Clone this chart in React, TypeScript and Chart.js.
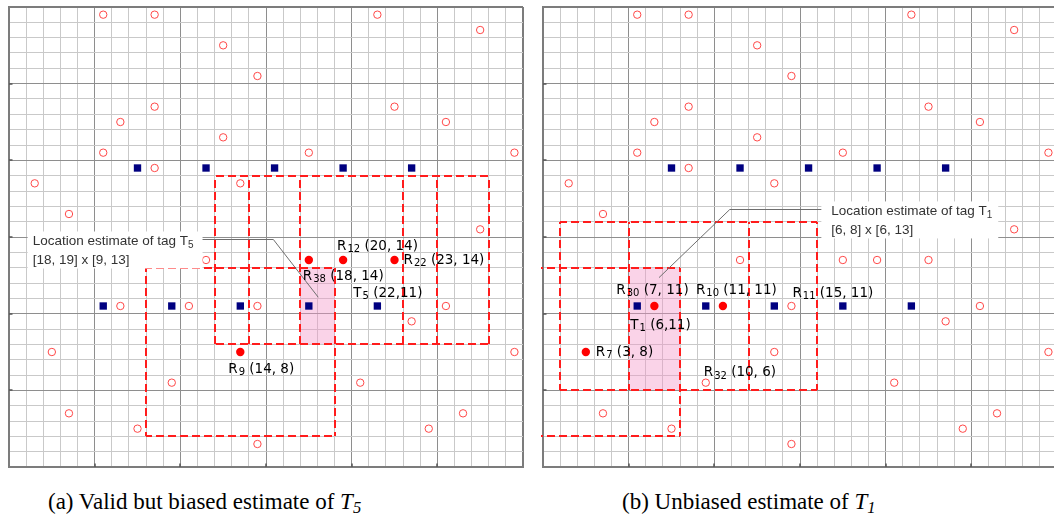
import React, { useEffect, useRef } from 'react';
import { Chart, registerables } from 'chart.js';

Chart.register(...registerables);

// ---------------- data ----------------
// Reader positions (grid cells, 1..30)
const readerX = [6, 9, 22, 28, 13, 15, 9, 23, 7, 26, 13, 6, 18, 30, 9, 2, 14, 4, 28, 12, 18, 20, 23, 7, 11, 15, 26, 24, 3, 14, 30, 10, 21, 4, 27, 8, 25, 15];
const readerY = [30, 30, 30, 29, 28, 26, 24, 24, 23, 23, 22, 21, 21, 21, 20, 19, 19, 17, 16, 14, 14, 14, 14, 11, 11, 11, 11, 10, 8, 8, 8, 6, 6, 4, 4, 3, 3, 2];
// Tag positions
const tagX = [8, 12, 16, 20, 24, 6, 10, 14, 18, 22];
const tagY = [20, 20, 20, 20, 20, 11, 11, 11, 11, 11];
// reading range (cells on each side of a reader)
const readRange = 5;

// Panel (a)
const aActiveNames = ['R38', 'R12', 'R22', 'R9'];
const aActiveX = [18, 20, 23, 14];
const aActiveY = [14, 14, 14, 8];
const aOtherNames: string[] = [];
const aOtherX: number[] = [];
const aOtherY: number[] = [];
const aTagName = 'T5';
const aTagX = 22;
const aTagY = 11;
const aEstX = [18, 19];
const aEstY = [9, 13];

// Panel (b)
const bActiveNames = ['R30', 'R10', 'R7'];
const bActiveX = [7, 11, 3];
const bActiveY = [11, 11, 8];
const bOtherNames = ['R11', 'R32'];
const bOtherX = [15, 10];
const bOtherY = [11, 6];
const bTagName = 'T1';
const bTagX = 6;
const bTagY = 11;
const bEstX = [6, 8];
const bEstY = [6, 13];

// ---------------- styles ----------------
const aLabelOffsets: Record<string, number[]> = { R38: [-6, 16], R12: [-6, -14], R22: [9, 0], R9: [-12, 17], T5: [-24, -13] };
const bLabelOffsets: Record<string, number[]> = { R30: [-38, -16], R10: [-27, -16], R7: [10, 0], R11: [1, -13], R32: [-2, -10], T1: [-7, 19] };

const aCallout = { textX: 1.88, lineY: 15.24, elbowX: 15.93, endX: 18.55, endY: 11.57, side: 'right', padL: 5, padR: 9 };
const bCallout = { textX: 17.33, lineY: 17.2, elbowX: 11.4, endX: 7.27, endY: 12.85, side: 'left', padL: 10, padR: 6 };

const MAJOR = '#8e8e8e';
const MINOR = '#c9c9c9';
const BORDER = '#7c7c7c';
const LABEL_FONT = '13.5px "DejaVu Sans"';
const LABEL_SUB = '10px "DejaVu Sans"';
const CALL_FONT = '13.5px "Liberation Sans"';
const CALL_SUB = '10px "Liberation Sans"';

const gridLines = Array.from({ length: 31 }, (_, i) => i + 0.5);

type Part = { text: string; sub?: boolean };

function drawParts(ctx: CanvasRenderingContext2D, x: number, y: number, parts: Part[], font: string, subFont: string, subDy: number) {
  let cx = x;
  for (const p of parts) {
    ctx.font = p.sub ? subFont : font;
    ctx.fillText(p.text, cx, p.sub ? y + subDy : y);
    cx += ctx.measureText(p.text).width;
  }
  return cx;
}

function measureParts(ctx: CanvasRenderingContext2D, parts: Part[], font: string, subFont: string) {
  let w = 0;
  for (const p of parts) {
    ctx.font = p.sub ? subFont : font;
    w += ctx.measureText(p.text).width;
  }
  return w;
}

function hseg(ctx: CanvasRenderingContext2D, x0: number, x1: number, yy: number, period: number) {
  ctx.lineDashOffset = ((x0 % period) + period) % period;
  ctx.beginPath();
  ctx.moveTo(x0, yy);
  ctx.lineTo(x1, yy);
  ctx.stroke();
}
function vseg(ctx: CanvasRenderingContext2D, y0: number, y1: number, xx: number, period: number) {
  ctx.lineDashOffset = ((y0 % period) + period) % period;
  ctx.beginPath();
  ctx.moveTo(xx, y0);
  ctx.lineTo(xx, y1);
  ctx.stroke();
}

const overlayPlugin = {
  id: 'overlay',
  beforeDatasetsDraw(chart: any, _args: any, o: any) {
    const { ctx, chartArea: ca } = chart;
    const x = chart.scales.x;
    const y = chart.scales.y;
    ctx.save();
    // small tick stubs on the major lines (left and bottom edges)
    ctx.strokeStyle = '#555555';
    ctx.lineWidth = 1.5;
    gridLines.forEach((v, k) => {
      if (k % 5 !== 0 || k === 0 || k === 30) return;
      const py = Math.round(y.getPixelForValue(v));
      ctx.beginPath();
      ctx.moveTo(ca.left, py);
      ctx.lineTo(ca.left + 3.5, py);
      ctx.stroke();
      const px = Math.round(x.getPixelForValue(v));
      ctx.beginPath();
      ctx.moveTo(px, ca.bottom);
      ctx.lineTo(px, ca.bottom - 3.5);
      ctx.stroke();
    });
    ctx.beginPath();
    ctx.rect(ca.left - 2, ca.top - 2, ca.right - ca.left + 4, ca.bottom - ca.top + 4);
    ctx.clip();
    // estimate region
    const ex0 = Math.round(x.getPixelForValue(o.estX[0] - 0.5));
    const ex1 = Math.round(x.getPixelForValue(o.estX[1] + 0.5));
    const ey0 = Math.round(y.getPixelForValue(o.estY[1] + 0.5));
    const ey1 = Math.round(y.getPixelForValue(o.estY[0] - 0.5));
    ctx.fillStyle = 'rgba(243,150,200,0.42)';
    ctx.fillRect(ex0, ey0, ex1 - ex0, ey1 - ey0);
    // reading ranges
    const period = 12;
    ctx.strokeStyle = '#ff1c1c';
    ctx.lineWidth = 2;
    ctx.setLineDash([8, 4]);
    o.activeX.forEach((rx: number, i: number) => {
      const ry = o.activeY[i];
      const l = Math.round(x.getPixelForValue(rx - readRange - 0.5));
      const r = Math.round(x.getPixelForValue(rx + readRange + 0.5));
      const t = Math.round(y.getPixelForValue(ry + readRange + 0.5));
      const b = Math.round(y.getPixelForValue(ry - readRange - 0.5));
      hseg(ctx, l, r, t, period);
      hseg(ctx, l, r, b, period);
      vseg(ctx, t, b, l, period);
      vseg(ctx, t, b, r, period);
    });
    ctx.restore();
  },
  afterDatasetsDraw(chart: any, _args: any, o: any) {
    const { ctx } = chart;
    const x = chart.scales.x;
    const y = chart.scales.y;
    ctx.save();
    // callout
    const c = o.callout;
    const tx = x.getPixelForValue(c.textX);
    const ly = y.getPixelForValue(c.lineY);
    const line1: Part[] = [{ text: 'Location estimate of tag ' + o.tagName.charAt(0) }, { text: o.tagName.slice(1), sub: true }];
    const line2: Part[] = [{ text: `[${o.estX[0]}, ${o.estX[1]}] x [${o.estY[0]}, ${o.estY[1]}]` }];
    const w1 = measureParts(ctx, line1, CALL_FONT, CALL_SUB);
    const boxL = tx - c.padL;
    const boxR = tx + w1 + c.padR;
    const boxT = ly - 9.5;
    const boxB = ly + 19 + 8.5;
    ctx.fillStyle = '#ffffff';
    ctx.fillRect(boxL, boxT, boxR - boxL, boxB - boxT);
    // leader
    const elx = x.getPixelForValue(c.elbowX);
    const enx = x.getPixelForValue(c.endX);
    const eny = y.getPixelForValue(c.endY);
    const leadY = Math.round(ly - 1.5) + 0.5;
    ctx.strokeStyle = '#6e6e6e';
    ctx.lineWidth = 1;
    ctx.beginPath();
    ctx.moveTo(c.side === 'right' ? boxR : boxL, leadY);
    ctx.lineTo(elx, leadY);
    ctx.lineTo(enx, eny);
    ctx.stroke();
    ctx.fillStyle = '#333333';
    ctx.textBaseline = 'middle';
    ctx.textAlign = 'left';
    drawParts(ctx, tx, ly, line1, CALL_FONT, CALL_SUB, 4);
    drawParts(ctx, tx, ly + 19, line2, CALL_FONT, CALL_SUB, 4);

    // point labels
    ctx.fillStyle = '#000000';
    const labels: { name: string; px: number; py: number; rest: string }[] = [];
    o.activeNames.forEach((n: string, i: number) => labels.push({ name: n, px: o.activeX[i], py: o.activeY[i], rest: `(${o.activeX[i]}, ${o.activeY[i]})` }));
    o.otherNames.forEach((n: string, i: number) => labels.push({ name: n, px: o.otherX[i], py: o.otherY[i], rest: `(${o.otherX[i]}, ${o.otherY[i]})` }));
    labels.push({ name: o.tagName, px: o.tagX, py: o.tagY, rest: `(${o.tagX},${o.tagY})` });
    labels.forEach((l) => {
      const off = o.offsets[l.name] || [8, 0];
      const px = x.getPixelForValue(l.px) + off[0];
      const py = y.getPixelForValue(l.py) + off[1];
      const main = l.name.charAt(0);
      const sub = l.name.slice(1);
      ctx.font = LABEL_FONT;
      const wR = ctx.measureText(main).width;
      ctx.fillText(main, px, py);
      ctx.font = LABEL_SUB;
      ctx.fillText(sub, px + wR + 1, py + 3.5);
      const wS = ctx.measureText(sub).width;
      ctx.font = LABEL_FONT;
      ctx.fillText(' ' + l.rest, px + wR + 1 + wS, py);
    });
    ctx.restore();
  },
};

const axis = () => ({
  type: 'linear',
  min: 0.5,
  max: 30.5,
  afterBuildTicks: (scale: any) => {
    scale.ticks = gridLines.map((v) => ({ value: v }));
  },
  ticks: { display: false },
  grid: {
    drawTicks: false,
    color: (c: any) => {
      const k = Math.round(c.tick.value - 0.5);
      if (k === 0 || k === 30) return BORDER;
      return k % 5 === 0 ? MAJOR : MINOR;
    },
    lineWidth: (c: any) => {
      const k = Math.round(c.tick.value - 0.5);
      return k === 0 || k === 30 ? 2 : 1;
    },
  },
  border: { display: true, color: BORDER, width: 2 },
});

function makeConfig(panel: any, padding: any) {
  const activeKeys = new Set(panel.activeX.map((v: number, i: number) => v + ',' + panel.activeY[i]));
  const openPts = readerX.map((v, i) => ({ x: v, y: readerY[i] })).filter((p) => !activeKeys.has(p.x + ',' + p.y));
  const activePts = panel.activeX.map((v: number, i: number) => ({ x: v, y: panel.activeY[i] }));
  const tagPts = tagX.map((v, i) => ({ x: v, y: tagY[i] }));
  return {
    type: 'scatter',
    data: {
      datasets: [
        { label: 'tags', data: tagPts, pointStyle: 'rect', pointRadius: 5.2, backgroundColor: '#000080', borderColor: '#000080', borderWidth: 0 },
        { label: 'readers', data: openPts, pointStyle: 'circle', pointRadius: 3.7, backgroundColor: 'rgba(255,255,255,0)', borderColor: '#ff4848', borderWidth: 1 },
        { label: 'active readers', data: activePts, pointStyle: 'circle', pointRadius: 4.2, backgroundColor: '#ff0000', borderColor: '#ff0000', borderWidth: 0 },
      ],
    },
    options: {
      animation: false,
      responsive: false,
      events: [],
      layout: { padding },
      plugins: { legend: { display: false }, tooltip: { enabled: false }, overlay: panel },
      scales: { x: axis(), y: axis() },
    },
    plugins: [overlayPlugin],
  };
}

const panelA = {
  activeNames: aActiveNames, activeX: aActiveX, activeY: aActiveY,
  otherNames: aOtherNames, otherX: aOtherX, otherY: aOtherY,
  tagName: aTagName, tagX: aTagX, tagY: aTagY, estX: aEstX, estY: aEstY,
  offsets: aLabelOffsets, callout: aCallout,
};
const panelB = {
  activeNames: bActiveNames, activeX: bActiveX, activeY: bActiveY,
  otherNames: bOtherNames, otherX: bOtherX, otherY: bOtherY,
  tagName: bTagName, tagX: bTagX, tagY: bTagY, estX: bEstX, estY: bEstY,
  offsets: bLabelOffsets, callout: bCallout,
};

export default function App() {
  const refA = useRef<HTMLCanvasElement>(null);
  const refB = useRef<HTMLCanvasElement>(null);
  useEffect(() => {
    const ca = new Chart(refA.current as any, makeConfig(panelA, { left: 9, top: 7, right: 7, bottom: 11 }) as any);
    const cb = new Chart(refB.current as any, makeConfig(panelB, { left: 8, top: 7, right: 8, bottom: 11 }) as any);
    return () => {
      ca.destroy();
      cb.destroy();
    };
  }, []);
  const cap: React.CSSProperties = {
    position: 'absolute', top: 487, fontFamily: '"Liberation Serif", serif', fontSize: 23, color: '#000', whiteSpace: 'nowrap', lineHeight: '30px',
  };
  const sub: React.CSSProperties = { fontSize: '0.72em', verticalAlign: '-0.25em' };
  return (
    <div style={{ position: 'absolute', left: 0, top: 0, width: 1054, height: 525, overflow: 'hidden', background: '#fff' }}>
      <canvas ref={refA} width={530} height={478} style={{ position: 'absolute', left: 0, top: 0 }} />
      <canvas ref={refB} width={530} height={478} style={{ position: 'absolute', left: 535, top: 0 }} />
      <div style={{ ...cap, left: 48 }}>
        (a) Valid but biased estimate of <i>T<sub style={sub}>5</sub></i>
      </div>
      <div style={{ ...cap, left: 622 }}>
        (b) Unbiased estimate of <i>T<sub style={sub}>1</sub></i>
      </div>
    </div>
  );
}
